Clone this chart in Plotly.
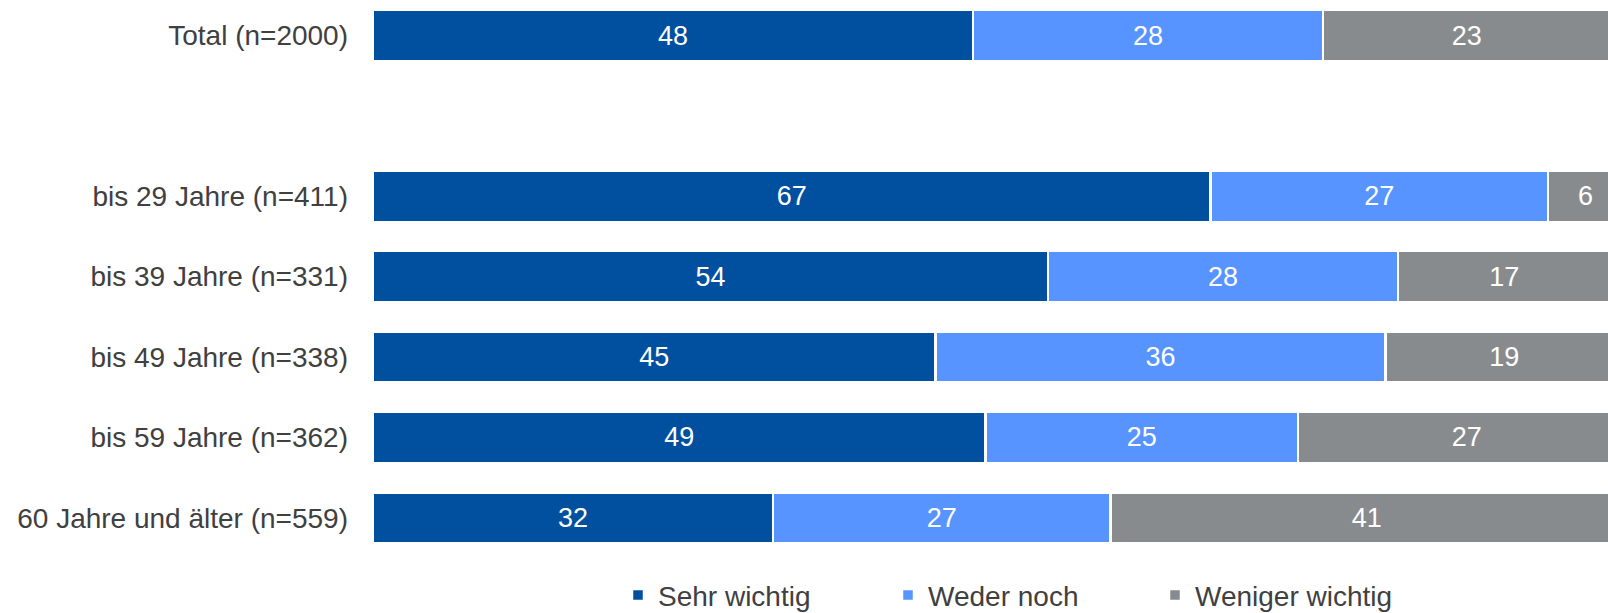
import plotly.graph_objects as go

# Row labels (a blank spacer row separates the total from the age groups)
categories = [
    "Total (n=2000)",
    " ",
    "bis 29 Jahre (n=411)",
    "bis 39 Jahre (n=331)",
    "bis 49 Jahre (n=338)",
    "bis 59 Jahre (n=362)",
    "60 Jahre und älter (n=559)",
]

# Percent shares per row (None for the spacer row)
sehr_wichtig = [48, None, 67, 54, 45, 49, 32]
weder_noch = [28, None, 27, 28, 36, 25, 27]
weniger_wichtig = [23, None, 6, 17, 19, 27, 41]

series = [
    ("Sehr wichtig", sehr_wichtig, "#00509F"),
    ("Weder noch", weder_noch, "#5894FF"),
    ("Weniger wichtig", weniger_wichtig, "#888B8E"),
]

FONT = "Liberation Sans, Arial, sans-serif"
TEXT_COLOR = "#404040"

# Plot area geometry in pixels (used to place the legend entries)
PLOT_LEFT = 373
PLOT_WIDTH = 1608 - PLOT_LEFT
legend_left_px = [618, 888, 1155]
legend_names = ["legend", "legend2", "legend3"]

fig = go.Figure()
for (name, values, color), lg in zip(series, legend_names):
    fig.add_trace(go.Bar(
        name=name,
        y=categories,
        x=values,
        orientation="h",
        width=0.635,
        legend=lg,
        showlegend=True,
        marker=dict(color=color, line=dict(color="white", width=2.5)),
        text=[("" if v is None else str(v)) for v in values],
        textposition="inside",
        insidetextanchor="middle",
        textangle=0,
        textfont=dict(color="white", size=27, family=FONT),
        hoverinfo="skip",
    ))

legend_style = dict(
    orientation="h",
    xanchor="left",
    y=-0.067,
    yanchor="middle",
    font=dict(size=28, color=TEXT_COLOR, family=FONT),
    bgcolor="rgba(0,0,0,0)",
)
legends = {
    lg: dict(legend_style, x=(px - PLOT_LEFT) / PLOT_WIDTH)
    for lg, px in zip(legend_names, legend_left_px)
}

fig.update_layout(
    width=1608,
    height=613,
    barmode="stack",
    showlegend=True,
    plot_bgcolor="white",
    paper_bgcolor="white",
    margin=dict(l=PLOT_LEFT, r=0, t=0, b=55, autoexpand=False),
    font=dict(family=FONT, size=28, color=TEXT_COLOR),
    uniformtext=dict(minsize=20, mode="show"),
    xaxis=dict(
        range=[0, 98.8],
        showgrid=False,
        zeroline=False,
        showticklabels=False,
        showline=False,
        fixedrange=True,
    ),
    yaxis=dict(
        type="category",
        categoryorder="array",
        categoryarray=categories,
        range=[6.5, -0.442],
        showgrid=False,
        zeroline=False,
        showline=False,
        ticks="",
        ticklabelstandoff=24,
        tickfont=dict(size=28, color=TEXT_COLOR, family=FONT),
    ),
    **legends,
)

fig.write_html("out.html")
